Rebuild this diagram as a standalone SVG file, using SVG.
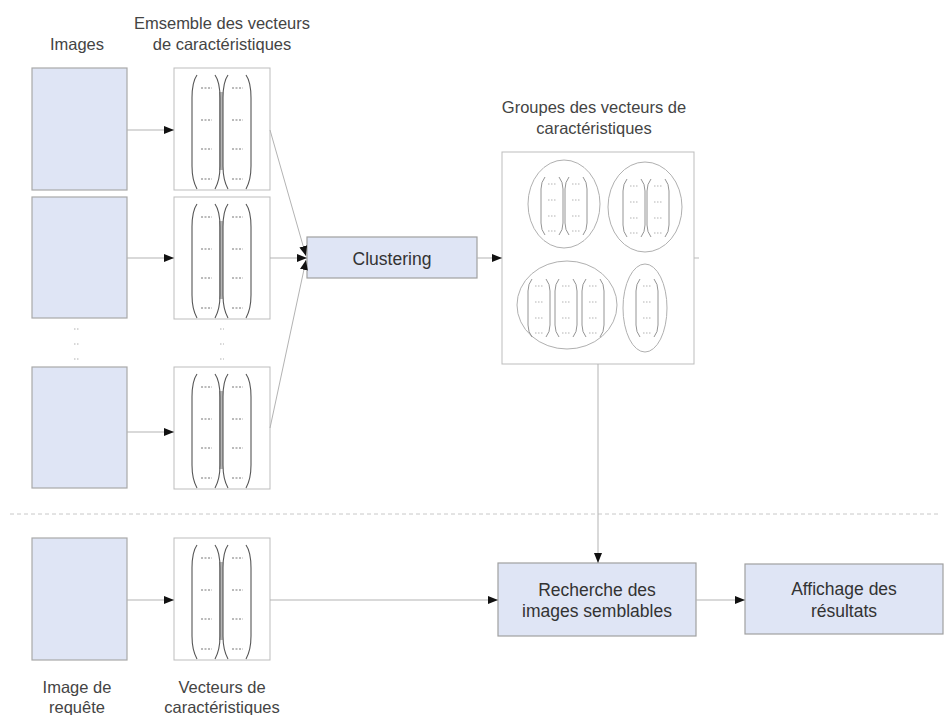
<svg xmlns="http://www.w3.org/2000/svg" xmlns:xlink="http://www.w3.org/1999/xlink" width="945" height="715" viewBox="0 0 945 715">
<style>
.lbl{font-family:"Liberation Sans",Arial,sans-serif;font-size:16.5px;fill:#444;text-anchor:middle}
.btxt{font-family:"Liberation Sans",Arial,sans-serif;font-size:17.5px;fill:#333;text-anchor:middle}
.img{fill:#dfe5f5;stroke:#a9a9a9;stroke-width:1.2}
.proc{fill:#dfe5f5;stroke:#a0a0a0;stroke-width:1.2}
.fvb{fill:#fff;stroke:#bdbdbd;stroke-width:1}
.par{fill:none;stroke:#555;stroke-width:1.1}
.spar{fill:none;stroke:#888;stroke-width:0.9}
.dash{stroke:#777;stroke-width:1;stroke-dasharray:2 1.5}
.sdash{stroke:#aaa;stroke-width:0.9;stroke-dasharray:1.5 1.5}
.con{fill:none;stroke:#b3b3b3;stroke-width:1}
.ell{fill:none;stroke:#b0b0b0;stroke-width:1}
.dots{stroke:#b0b0b0;stroke-width:1;stroke-dasharray:1.5 1.5}
</style>
<defs>
<marker id="ah" viewBox="0 0 10 8" refX="10" refY="4" markerWidth="10" markerHeight="8" markerUnits="userSpaceOnUse" orient="auto">
<path d="M0,0 L10,4 L0,8 z" fill="#111"/>
</marker>
<g id="fv">
<rect class="fvb" x="0" y="0" width="96" height="122"/>
<rect x="45" y="24" width="4" height="78" fill="#b5b5b5"/>
<path class="par" d="M23,7 Q18,14 18,30 L18,98 Q18,112 23,121"/>
<path class="par" d="M41,7 Q46,14 46,30 L46,98 Q46,112 41,121"/>
<path class="par" d="M54,7 Q49,14 49,30 L49,98 Q49,112 54,121"/>
<path class="par" d="M72,7 Q77,14 77,30 L77,98 Q77,112 72,121"/>
<line class="dash" x1="27" y1="20" x2="38" y2="20"/>
<line class="dash" x1="27" y1="52" x2="38" y2="52"/>
<line class="dash" x1="27" y1="81" x2="38" y2="81"/>
<line class="dash" x1="27" y1="111" x2="38" y2="111"/>
<line class="dash" x1="58" y1="20" x2="69" y2="20"/>
<line class="dash" x1="58" y1="52" x2="69" y2="52"/>
<line class="dash" x1="58" y1="81" x2="69" y2="81"/>
<line class="dash" x1="58" y1="111" x2="69" y2="111"/>
</g>
<g id="col">
<path class="spar" d="M4,0 Q0,5 0,12 L0,46 Q0,53 4,58"/>
<path class="spar" d="M18,0 Q22,5 22,12 L22,46 Q22,53 18,58"/>
<line class="sdash" x1="7" y1="7" x2="15" y2="7"/>
<line class="sdash" x1="7" y1="23" x2="15" y2="23"/>
<line class="sdash" x1="7" y1="39" x2="15" y2="39"/>
<line class="sdash" x1="7" y1="54" x2="15" y2="54"/>
</g>
</defs>

<!-- labels -->
<g id="labels">
<text class="lbl" x="77" y="50">Images</text>
<text class="lbl" x="222" y="29">Emsemble des vecteurs</text>
<text class="lbl" x="222" y="50">de caractéristiques</text>
<text class="lbl" x="594" y="113">Groupes des vecteurs de</text>
<text class="lbl" x="594" y="134">caractéristiques</text>
<text class="lbl" x="77" y="693">Image de</text>
<text class="lbl" x="77" y="713">requête</text>
<text class="lbl" x="222" y="693">Vecteurs de</text>
<text class="lbl" x="222" y="713">caractéristiques</text>
</g>

<!-- separator -->
<line x1="10" y1="514" x2="940" y2="514" stroke="#c8c8c8" stroke-width="1" stroke-dasharray="4 3"/>

<!-- continuation dots -->
<g id="ellipsis-marks">
<line class="dots" x1="74" y1="329" x2="80" y2="329"/>
<line class="dots" x1="74" y1="344" x2="80" y2="344"/>
<line class="dots" x1="74" y1="359" x2="80" y2="359"/>
<line class="dots" x1="220" y1="329" x2="224" y2="329"/>
<line class="dots" x1="220" y1="344" x2="224" y2="344"/>
<line class="dots" x1="220" y1="359" x2="224" y2="359"/>
</g>

<!-- image nodes -->
<g id="image1"><rect class="img" x="32" y="68" width="95" height="122"/></g>
<g id="image2"><rect class="img" x="32" y="197" width="95" height="121"/></g>
<g id="image3"><rect class="img" x="32" y="367" width="95" height="121"/></g>
<g id="query-image"><rect class="img" x="32" y="538" width="95" height="122"/></g>

<!-- feature vector nodes -->
<g id="fv1"><use xlink:href="#fv" href="#fv" x="174" y="68"/></g>
<g id="fv2"><use xlink:href="#fv" href="#fv" x="174" y="197"/></g>
<g id="fv3"><use xlink:href="#fv" href="#fv" x="174" y="367"/></g>
<g id="fv-query"><use xlink:href="#fv" href="#fv" x="174" y="538"/></g>

<!-- clustering -->
<g id="clustering">
<rect class="proc" x="307" y="237" width="170" height="41"/>
<text class="btxt" x="392" y="265">Clustering</text>
</g>

<!-- groups -->
<g id="groups">
<rect class="fvb" x="502" y="152" width="192" height="212"/>
<ellipse class="ell" cx="564" cy="204" rx="36" ry="44"/>
<ellipse class="ell" cx="645" cy="207" rx="37" ry="45"/>
<ellipse class="ell" cx="567" cy="305" rx="50" ry="44"/>
<ellipse class="ell" cx="645" cy="308" rx="22" ry="44"/>
<use xlink:href="#col" href="#col" x="541" y="177"/>
<use xlink:href="#col" href="#col" x="565" y="177"/>
<use xlink:href="#col" href="#col" x="623" y="179"/>
<use xlink:href="#col" href="#col" x="647" y="179"/>
<use xlink:href="#col" href="#col" x="528" y="279"/>
<use xlink:href="#col" href="#col" x="555" y="279"/>
<use xlink:href="#col" href="#col" x="582" y="279"/>
<use xlink:href="#col" href="#col" x="636" y="279"/>
<line x1="694" y1="258" x2="699" y2="258" stroke="#bbb" stroke-width="1"/>
</g>

<!-- search -->
<g id="recherche">
<rect class="proc" x="498" y="563" width="198" height="73"/>
<text class="btxt" x="597" y="596">Recherche des</text>
<text class="btxt" x="597" y="617">images semblables</text>
</g>

<!-- display -->
<g id="affichage">
<rect class="proc" x="745" y="564" width="198" height="70"/>
<text class="btxt" x="844" y="595">Affichage des</text>
<text class="btxt" x="844" y="617">résultats</text>
</g>

<!-- connectors -->
<g id="connectors">
<line class="con" x1="127" y1="130" x2="174" y2="130" marker-end="url(#ah)"/>
<line class="con" x1="127" y1="258" x2="174" y2="258" marker-end="url(#ah)"/>
<line class="con" x1="127" y1="432" x2="174" y2="432" marker-end="url(#ah)"/>
<line class="con" x1="127" y1="600" x2="174" y2="600" marker-end="url(#ah)"/>
<line class="con" x1="270" y1="130" x2="306" y2="256" marker-end="url(#ah)"/>
<line class="con" x1="270" y1="258" x2="307" y2="258" marker-end="url(#ah)"/>
<line class="con" x1="270" y1="428" x2="306" y2="260" marker-end="url(#ah)"/>
<line class="con" x1="477" y1="258" x2="502" y2="258" marker-end="url(#ah)"/>
<line class="con" x1="598" y1="364" x2="598" y2="563" marker-end="url(#ah)"/>
<line class="con" x1="270" y1="600" x2="498" y2="600" marker-end="url(#ah)"/>
<line class="con" x1="696" y1="600" x2="745" y2="600" marker-end="url(#ah)"/>
</g>
</svg>
